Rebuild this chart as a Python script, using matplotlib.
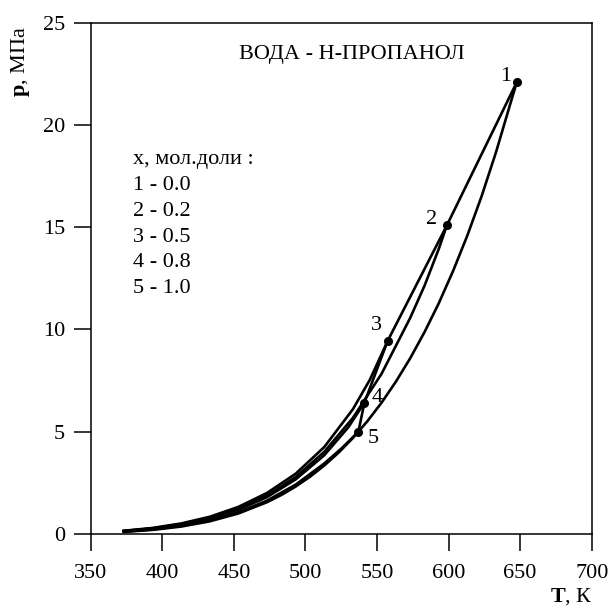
import matplotlib
matplotlib.use("Agg")
import matplotlib.pyplot as plt

plt.rcParams['font.family'] = ['Liberation Serif', 'DejaVu Serif']
plt.rcParams['mathtext.fontset'] = 'custom'
plt.rcParams['mathtext.rm'] = 'Liberation Serif'
plt.rcParams['mathtext.bf'] = 'Liberation Serif:bold'

# vapour pressure curves, T in K, p in MPa
T1 = [373.15, 393.15, 413.15, 433.15, 453.15, 473.15, 483.15, 493.15, 503.15,
      513.15, 523.15, 533.15, 543.15, 553.15, 563.15, 573.15, 583.15, 593.15,
      603.15, 613.15, 623.15, 633.15, 643.15, 647.7]
p1 = [0.101, 0.199, 0.362, 0.618, 1.003, 1.554, 1.906, 2.318, 2.797,
      3.347, 3.976, 4.692, 5.503, 6.417, 7.442, 8.588, 9.865, 11.28,
      12.86, 14.60, 16.53, 18.67, 21.04, 22.1]

T2 = [373.15, 393.15, 413.15, 433.15, 453.15, 473.15, 493.15, 513.15, 533.15,
      553.15, 573.15, 583.15, 593.15, 598.8]
p2 = [0.147, 0.274, 0.481, 0.791, 1.243, 1.880, 2.782, 4.016, 5.677,
      7.829, 10.56, 12.13, 13.94, 15.09]

T3 = [373.15, 393.15, 413.15, 433.15, 453.15, 473.15, 493.15, 513.15, 533.15,
      545.0, 557.5]
p3 = [0.157, 0.294, 0.513, 0.841, 1.324, 2.005, 2.945, 4.25, 6.10,
      7.54, 9.45]

T4 = [373.15, 393.15, 413.15, 433.15, 453.15, 473.15, 493.15, 513.15, 530.0,
      541.2]
p4 = [0.142, 0.264, 0.459, 0.754, 1.183, 1.803, 2.666, 3.849, 5.22,
      6.42]

T5 = [373.15, 393.15, 413.15, 433.15, 453.15, 473.15, 493.15, 513.15, 525.0,
      537.0]
p5 = [0.113, 0.222, 0.398, 0.668, 1.063, 1.632, 2.411, 3.447, 4.17,
      5.00]

# critical points 1..5
Tc = [647.7, 598.8, 557.5, 541.2, 537.0]
pc = [22.1, 15.09, 9.45, 6.42, 5.00]
crit_labels = ['1', '2', '3', '4', '5']
label_pos = [(639.6, 22.35), (587.8, 15.4), (549.9, 10.2), (549.9, 6.67), (547.5, 4.65)]

legend_lines = ['x, мол.доли :', '1 - 0.0', '2 - 0.2', '3 - 0.5', '4 - 0.8', '5 - 1.0']

fig = plt.figure(figsize=(6.09, 6.09), dpi=100)
ax = fig.add_axes([0.149, 0.1232, 0.8226, 0.8395])

lw = 1.9
for T, p in [(T1, p1), (T2, p2), (T3, p3), (T4, p4), (T5, p5)]:
    ax.plot(T, p, color='black', lw=lw, solid_joinstyle='round')

# critical locus through the points
ax.plot(Tc, pc, color='black', lw=lw)
ax.plot(Tc, pc, 'o', color='black', ms=5.5)

for lab, (x, y) in zip(crit_labels, label_pos):
    ax.text(x, y, lab, fontsize=16, ha='center', va='center')

ax.text(532.3, 23.47, 'ВОДА - Н-ПРОПАНОЛ', fontsize=16, ha='center', va='center')

for i, s in enumerate(legend_lines):
    ax.text(379.6, 18.3 - i * 1.26, s, fontsize=16, ha='left', va='center')

ax.set_xlim(350, 700)
ax.set_ylim(0, 25)
ax.set_xticks(range(350, 701, 50))
ax.set_yticks(range(0, 26, 5))
ax.tick_params(direction='out', length=12.5, width=1.1, labelsize=16)
ax.tick_params(axis='x', pad=9)
ax.tick_params(axis='y', pad=6)
for sp in ax.spines.values():
    sp.set_linewidth(1.1)

fig.text(20 / 609, 1 - 62 / 609, r'$\mathbf{p}$, МПа', rotation=90,
         fontsize=16, ha='center', va='center')
fig.text(571 / 609, 1 - 597 / 609, r'$\mathbf{T}$, К', fontsize=16,
         ha='center', va='center')

fig.savefig('out.png', dpi=100)
